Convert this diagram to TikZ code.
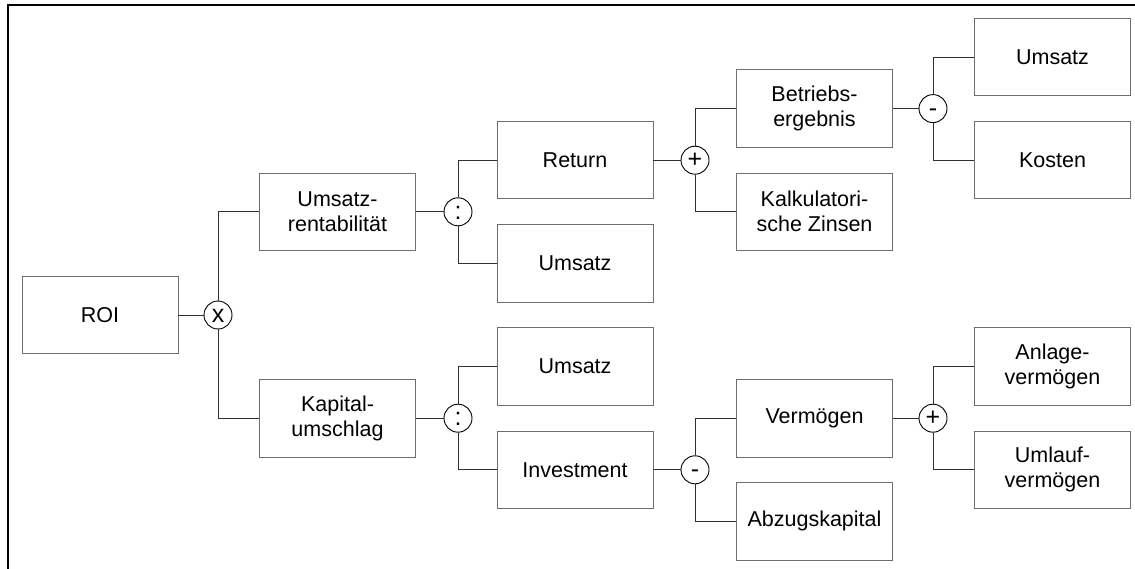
\documentclass[tikz,border=0pt]{standalone}
\usepackage{fontspec}
\setmainfont{Liberation Sans}
\definecolor{boxgray}{HTML}{6E6E6E}
\definecolor{linegray}{HTML}{303030}

\begin{document}
\begin{tikzpicture}[x=1pt,y=-1pt]
                \tikzstyle{box}=[rectangle, draw=boxgray, line width=0.9pt, inner sep=0pt,
                    minimum width=156pt, minimum height=77.5pt, align=center,
                    font=\fontsize{21.5}{25}\selectfont]
                \tikzstyle{op}=[circle, draw=black, line width=0.9pt, inner sep=0pt,
                    minimum size=28pt, text height=15pt, text depth=0pt,
                    font=\fontsize{25}{25}\selectfont]
                \tikzstyle{con}=[draw=linegray, line width=0.9pt]

                \useasboundingbox (0,0) rectangle (1135,569);
                \draw[line width=2pt] (8,569) -- (8,5) -- (1135,5);

                % column 1 and 2
                \node[box] (roi)     at (100,315)   {ROI};
                \node[op]  (mul)     at (218,315)   {x};
                \node[box] (umsrent) at (337.5,211.8) {Umsatz-\\rentabilität};
                \node[box] (kapum)   at (337.5,418.2) {Kapital-\\umschlag};

                % column 3
                \node[op]  (div1)    at (458,211.8) {:};
                \node[op]  (div2)    at (458,418.2) {:};
                \node[box] (ret)     at (575,160.2) {Return};
                \node[box] (umsa)    at (575,263.4) {Umsatz};
                \node[box] (umsb)    at (575,366.6) {Umsatz};
                \node[box] (inv)     at (575,469.8) {Investment};

                % column 4
                \node[op]  (plusa)   at (695,160.2) {+};
                \node[op]  (minusb)  at (695,469.8) {-};
                \node[box] (betr)    at (814.5,108.6) {Betriebs-\\ergebnis};
                \node[box] (kalk)    at (814.5,211.8) {Kalkulatori-\\sche Zinsen};
                \node[box] (verm)    at (814.5,418.2) {Vermögen};
                \node[box] (abz)     at (814.5,521.4) {Abzugskapital};

                % column 5
                \node[op]  (minusa)  at (933,108.6) {-};
                \node[op]  (plusb)   at (933,418.2) {+};
                \node[box] (umsc)    at (1052.5,57)   {Umsatz};
                \node[box] (kost)    at (1052.5,160.2) {Kosten};
                \node[box] (anl)     at (1052.5,366.6) {Anlage-\\vermögen};
                \node[box] (uml)     at (1052.5,469.8) {Umlauf-\\vermögen};

                \draw[con] (roi) -- (mul);
                \draw[con] (mul.north) |- (umsrent.west);
                \draw[con] (mul.south) |- (kapum.west);

                \draw[con] (umsrent) -- (div1);
                \draw[con] (div1.north) |- (ret.west);
                \draw[con] (div1.south) |- (umsa.west);
                \draw[con] (kapum) -- (div2);
                \draw[con] (div2.north) |- (umsb.west);
                \draw[con] (div2.south) |- (inv.west);

                \draw[con] (ret) -- (plusa);
                \draw[con] (plusa.north) |- (betr.west);
                \draw[con] (plusa.south) |- (kalk.west);
                \draw[con] (inv) -- (minusb);
                \draw[con] (minusb.north) |- (verm.west);
                \draw[con] (minusb.south) |- (abz.west);

                \draw[con] (betr) -- (minusa);
                \draw[con] (minusa.north) |- (umsc.west);
                \draw[con] (minusa.south) |- (kost.west);
                \draw[con] (verm) -- (plusb);
                \draw[con] (plusb.north) |- (anl.west);
                \draw[con] (plusb.south) |- (uml.west);
            \end{tikzpicture}
\end{document}
